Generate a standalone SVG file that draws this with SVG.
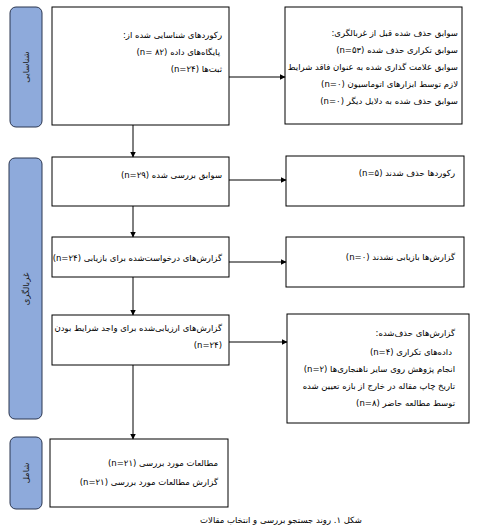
<svg xmlns="http://www.w3.org/2000/svg" width="481" height="530" viewBox="0 0 481 530">
<style>
.bg{fill:#ffffff}
.box{fill:#ffffff;stroke:#000000;stroke-width:1}
.side{fill:#8eaadb;stroke:#2b3650;stroke-width:1}
.t{font-family:"DejaVu Sans",sans-serif;font-size:8.5px;fill:#000000;direction:rtl;unicode-bidi:embed;text-anchor:start}
.s{font-family:"DejaVu Sans",sans-serif;font-size:8.5px;fill:#1a1a1a;direction:rtl;unicode-bidi:embed;text-anchor:middle}
.c{font-family:"DejaVu Sans",sans-serif;font-size:8.5px;fill:#000000;direction:rtl;unicode-bidi:embed;text-anchor:middle}
.ln{stroke:#000000;stroke-width:1;fill:none;marker-end:url(#ah)}
</style>
<defs>
<marker id="ah" markerWidth="6" markerHeight="6" refX="5.5" refY="3" orient="auto" markerUnits="userSpaceOnUse">
<path d="M0,0 L6,3 L0,6 Z" fill="#000000"/>
</marker>
</defs>
<rect class="bg" x="0" y="0" width="481" height="530"/>
<g id="side-identification">
<rect class="side" x="10" y="7" width="32" height="120" rx="6"/>
<text class="s" transform="translate(29,67) rotate(-90)">شناسایی</text>
</g>
<g id="side-screening">
<rect class="side" x="9" y="158" width="33" height="261" rx="6"/>
<text class="s" transform="translate(29,289) rotate(-90)">غربالگری</text>
</g>
<g id="side-included">
<rect class="side" x="10" y="437" width="32" height="72" rx="6"/>
<text class="s" transform="translate(29,473) rotate(-90)">شامل</text>
</g>
<g id="box-identified">
<rect class="box" x="52" y="7" width="177" height="118"/>
<text class="t" x="222" y="38">رکوردهای شناسایی شده از:</text>
<text class="t" x="220" y="55">پایگاه‌های داده (n= ۸۲)</text>
<text class="t" x="222" y="72">ثبت‌ها (n=۲۴)</text>
</g>
<g id="box-removed-before">
<rect class="box" x="285" y="7" width="177" height="117"/>
<text class="t" x="458" y="36">سوابق حذف شده قبل از غربالگری:</text>
<text class="t" x="458" y="53">سوابق تکراری حذف شده (n=۵۳)</text>
<text class="t" x="458" y="70">سوابق علامت گذاری شده به عنوان فاقد شرایط</text>
<text class="t" x="458" y="87">لازم توسط ابزارهای اتوماسیون (n=۰)</text>
<text class="t" x="458" y="104">سوابق حذف شده به دلایل دیگر (n=۰)</text>
</g>
<g id="box-screened">
<rect class="box" x="52" y="157" width="177" height="49"/>
<text class="t" x="222" y="178">سوابق بررسی شده (n=۲۹)</text>
</g>
<g id="box-excluded">
<rect class="box" x="286" y="156" width="178" height="50"/>
<text class="t" x="455" y="176">رکوردها حذف شدند (n=۵)</text>
</g>
<g id="box-sought">
<rect class="box" x="52" y="237" width="177" height="40"/>
<text class="t" x="222" y="261">گزارش‌های درخواست‌شده برای بازیابی (n=۲۴)</text>
</g>
<g id="box-not-retrieved">
<rect class="box" x="286" y="237" width="178" height="50"/>
<text class="t" x="455" y="260">گزارش‌ها بازیابی نشدند (n=۰)</text>
</g>
<g id="box-assessed">
<rect class="box" x="52" y="315" width="177" height="50"/>
<text class="t" x="222" y="331">گزارش‌های ارزیابی‌شده برای واجد شرایط بودن</text>
<text class="t" x="222" y="348">(n=۲۴)</text>
</g>
<g id="box-reports-excluded">
<rect class="box" x="287" y="314" width="182" height="109"/>
<text class="t" x="455" y="336">گزارش‌های حذف‌شده:</text>
<text class="t" x="452" y="355">داده‌های تکراری (n=۴)</text>
<text class="t" x="455" y="372">انجام پژوهش روی سایر ناهنجاری‌ها (n=۲)</text>
<text class="t" x="455" y="389">تاریخ چاپ مقاله در خارج از بازه تعیین شده</text>
<text class="t" x="455" y="406">توسط مطالعه حاضر (n=۸)</text>
</g>
<g id="box-included">
<rect class="box" x="50" y="439" width="178" height="68"/>
<text class="t" x="218" y="466">مطالعات مورد بررسی (n=۲۱)</text>
<text class="t" x="218" y="485">گزارش مطالعات مورد بررسی (n=۲۱)</text>
</g>
<g id="caption">
<text class="c" x="281" y="523">شکل ۱. روند جستجو بررسی و انتخاب مقالات</text>
</g>
<g id="connectors">
<line class="ln" x1="229" y1="77" x2="285" y2="77"/>
<line class="ln" x1="133" y1="125" x2="133" y2="157"/>
<line class="ln" x1="229" y1="180" x2="286" y2="180"/>
<line class="ln" x1="133" y1="206" x2="133" y2="237"/>
<line class="ln" x1="229" y1="262" x2="286" y2="262"/>
<line class="ln" x1="133" y1="277" x2="133" y2="315"/>
<line class="ln" x1="229" y1="342" x2="287" y2="342"/>
<line class="ln" x1="133" y1="365" x2="133" y2="439"/>
</g>
</svg>
